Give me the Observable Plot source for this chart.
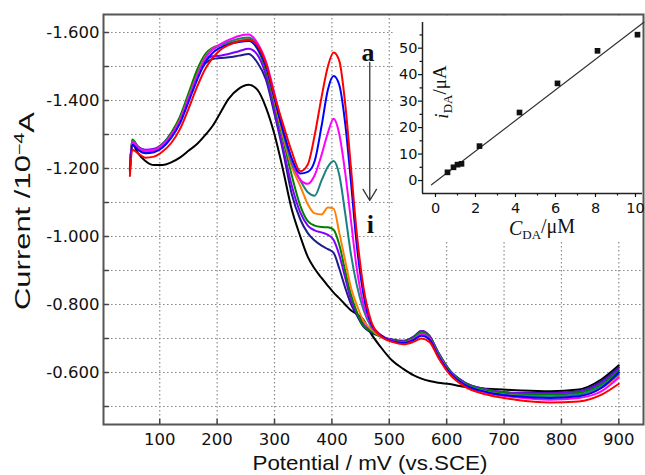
<!DOCTYPE html>
<html><head><meta charset="utf-8">
<script src="https://cdn.jsdelivr.net/npm/d3@7"></script>
<script src="https://cdn.jsdelivr.net/npm/@observablehq/plot@0.6"></script>
<style>
body{margin:0;background:#fff}
#wrap{position:relative;width:645px;height:475px;overflow:hidden}
#inset{position:absolute;left:393px;top:16px}
</style>
</head><body><div id="wrap"></div>
<script>
// ---- main chart data (potential in mV, current in 10^-4 A) ----
const potential = [48, 52, 62, 75, 90, 105, 120, 135, 150, 165, 180, 192, 205, 220, 238, 255, 270, 285, 300, 315, 330, 345, 358, 370, 382, 393, 403, 413, 423, 433, 443, 455, 468, 485, 505, 525, 542, 556, 570, 585, 605, 630, 670, 720, 780, 830, 870, 900];
const curveA = [-1.178, -1.255, -1.245, -1.232, -1.235, -1.25, -1.275, -1.315, -1.375, -1.44, -1.495, -1.525, -1.548, -1.563, -1.574, -1.579, -1.562, -1.51, -1.415, -1.33, -1.25, -1.192, -1.212, -1.298, -1.41, -1.50, -1.541, -1.516, -1.393, -1.207, -1.016, -0.851, -0.753, -0.707, -0.69, -0.683, -0.69, -0.70, -0.69, -0.645, -0.595, -0.56, -0.535, -0.52, -0.512, -0.515, -0.535, -0.567];
const curveB = [-1.19, -1.27, -1.255, -1.245, -1.248, -1.262, -1.29, -1.332, -1.395, -1.46, -1.515, -1.54, -1.555, -1.565, -1.572, -1.575, -1.555, -1.5, -1.405, -1.31, -1.23, -1.185, -1.19, -1.222, -1.325, -1.432, -1.472, -1.445, -1.335, -1.165, -0.98, -0.83, -0.745, -0.71, -0.692, -0.687, -0.695, -0.708, -0.697, -0.65, -0.6, -0.565, -0.542, -0.53, -0.525, -0.53, -0.555, -0.6];
const curveC = [-1.195, -1.278, -1.262, -1.252, -1.255, -1.27, -1.298, -1.34, -1.405, -1.47, -1.525, -1.55, -1.565, -1.578, -1.59, -1.594, -1.57, -1.515, -1.42, -1.315, -1.225, -1.167, -1.155, -1.18, -1.24, -1.305, -1.346, -1.30, -1.19, -1.05, -0.91, -0.80, -0.74, -0.71, -0.693, -0.688, -0.697, -0.712, -0.70, -0.652, -0.60, -0.565, -0.54, -0.527, -0.52, -0.525, -0.545, -0.585];
const curveD = [-1.195, -1.28, -1.26, -1.248, -1.25, -1.266, -1.295, -1.34, -1.405, -1.472, -1.528, -1.55, -1.562, -1.572, -1.582, -1.585, -1.562, -1.505, -1.41, -1.305, -1.215, -1.165, -1.13, -1.12, -1.165, -1.205, -1.222, -1.18, -1.07, -0.95, -0.86, -0.785, -0.735, -0.708, -0.693, -0.688, -0.698, -0.714, -0.70, -0.655, -0.602, -0.567, -0.543, -0.532, -0.53, -0.535, -0.56, -0.595];
const curveE = [-1.195, -1.28, -1.26, -1.25, -1.252, -1.268, -1.297, -1.342, -1.408, -1.475, -1.53, -1.552, -1.563, -1.572, -1.58, -1.583, -1.56, -1.5, -1.40, -1.295, -1.205, -1.148, -1.095, -1.068, -1.065, -1.085, -1.082, -1.01, -0.93, -0.851, -0.80, -0.752, -0.728, -0.706, -0.692, -0.687, -0.697, -0.713, -0.699, -0.653, -0.60, -0.566, -0.543, -0.532, -0.528, -0.532, -0.555, -0.59];
const curveF = [-1.198, -1.285, -1.265, -1.253, -1.255, -1.272, -1.305, -1.352, -1.42, -1.49, -1.538, -1.555, -1.563, -1.57, -1.577, -1.578, -1.552, -1.49, -1.39, -1.285, -1.18, -1.09, -1.045, -1.032, -1.028, -1.027, -1.02, -0.975, -0.90, -0.83, -0.78, -0.738, -0.722, -0.705, -0.694, -0.69, -0.702, -0.72, -0.705, -0.658, -0.605, -0.57, -0.548, -0.537, -0.535, -0.54, -0.565, -0.605];
const curveG = [-1.2, -1.283, -1.265, -1.255, -1.258, -1.273, -1.302, -1.348, -1.413, -1.48, -1.518, -1.53, -1.532, -1.537, -1.545, -1.552, -1.535, -1.475, -1.37, -1.26, -1.15, -1.07, -1.032, -1.018, -1.012, -1.005, -0.99, -0.945, -0.88, -0.815, -0.775, -0.745, -0.725, -0.708, -0.695, -0.692, -0.704, -0.722, -0.707, -0.66, -0.607, -0.572, -0.55, -0.54, -0.538, -0.543, -0.57, -0.61];
const curveH = [-1.198, -1.28, -1.262, -1.25, -1.252, -1.268, -1.298, -1.343, -1.408, -1.47, -1.51, -1.522, -1.525, -1.527, -1.532, -1.537, -1.512, -1.462, -1.36, -1.25, -1.125, -1.05, -1.01, -0.988, -0.973, -0.963, -0.952, -0.905, -0.85, -0.802, -0.77, -0.735, -0.718, -0.706, -0.697, -0.693, -0.705, -0.722, -0.708, -0.66, -0.607, -0.572, -0.55, -0.54, -0.54, -0.545, -0.575, -0.615];
const curveI = [-1.204, -1.272, -1.245, -1.222, -1.21, -1.21, -1.218, -1.232, -1.252, -1.272, -1.30, -1.325, -1.362, -1.405, -1.435, -1.446, -1.432, -1.38, -1.30, -1.195, -1.08, -1.0, -0.94, -0.905, -0.878, -0.855, -0.835, -0.818, -0.80, -0.783, -0.772, -0.755, -0.715, -0.675, -0.635, -0.61, -0.592, -0.582, -0.575, -0.57, -0.566, -0.558, -0.552, -0.548, -0.545, -0.55, -0.58, -0.621];
const curveIds = ["a", "b", "c", "d", "e", "f", "g", "h", "i"];
const curveColors = ["#ff0000", "#0000ff", "#ff00ff", "#1a8080", "#ff8000", "#008000", "#8000ff", "#1c1c8a", "#000000"];

const xTickLabels = [100, 200, 300, 400, 500, 600, 700, 800, 900];
const yTickLabels = [-1.6, -1.4, -1.2, -1.0, -0.8, -0.6];
const yGridValues = [-1.6, -1.5, -1.4, -1.3, -1.2, -1.1, -1.0, -0.9, -0.8, -0.7, -0.6, -0.5];
const xDomain = [2, 943];
const yDomain = [-0.447, -1.653];

// annotation "a" -> "i" arrow (data coordinates)
const annotLabels = [{t: "a", x: 463, y: -1.542}, {t: "i", x: 467, y: -1.035}];
const annotArrow = [{x1: 466, y1: -1.512, x2: 466, y2: -1.106}];

// ---- inset data ----
const cDA = [0.5, 0.8, 1.0, 1.2, 2.1, 4.1, 6.0, 8.0, 10.0];
const iDA = [3.1, 5.0, 6.0, 6.3, 13.0, 25.7, 36.7, 49.0, 55.1];
const fitX = [-0.3, 10.32];
const fitY = [-1.6, 59.8];
const insetXTicks = [0, 2, 4, 6, 8, 10];
const insetXMinor = [1, 3, 5, 7, 9];
const insetYTicks = [0, 10, 20, 30, 40, 50];
const insetYMinor = [5, 15, 25, 35, 45, 55];
const insetXDomain = [-0.75, 10.25];
const insetYDomain = [-4.9, 59.7];

// ---- build tables ----
const curveValues = [curveA, curveB, curveC, curveD, curveE, curveF, curveG, curveH, curveI];
const drawOrder = [8, 7, 6, 5, 4, 3, 2, 1, 0];
const lineData = drawOrder.flatMap(k => potential.map((x, j) => ({x, y: curveValues[k][j], id: curveIds[k]})));
const points = cDA.map((c, j) => ({c, v: iDA[j]}));
const fit = fitX.map((c, j) => ({c, v: fitY[j]}));

const tickShape = {draw(ctx, l) { ctx.moveTo(0, 0); ctx.lineTo(0, -l); }};
const gridStyle = {stroke: "#8c8c8c", strokeOpacity: 1, strokeDasharray: "1.6,2.4", strokeWidth: 1.2};

const main = Plot.plot({
  width: 645, height: 475,
  marginLeft: 103, marginRight: 2, marginTop: 14, marginBottom: 51,
  x: {domain: xDomain},
  y: {domain: yDomain},
  color: {domain: curveIds, range: curveColors},
  style: {fontFamily: "DejaVu Sans", fontSize: "16.5px", color: "#111", background: "white", overflow: "visible"},
  marks: [
    Plot.gridX(xTickLabels, gridStyle),
    Plot.gridY(yGridValues, gridStyle),
    Plot.line(lineData, {x: "x", y: "y", z: "id", stroke: "id", strokeWidth: 2, curve: "monotone-x"}),
    Plot.arrow(annotArrow, {x1: "x1", y1: "y1", x2: "x2", y2: "y2", stroke: "#333", strokeWidth: 1.3, headLength: 15, headAngle: 62}),
    Plot.text(annotLabels, {x: "x", y: "y", text: "t", fontFamily: "Liberation Serif", fontWeight: "bold", fontSize: 26, fill: "#111"}),
    Plot.vector(xTickLabels, {x: d => d, frameAnchor: "bottom", length: 5, anchor: "start", shape: tickShape, stroke: "#444", strokeWidth: 1.5}),
    Plot.vector(yGridValues, {y: d => d, frameAnchor: "left", length: 5, rotate: 90, anchor: "start", shape: tickShape, stroke: "#444", strokeWidth: 1.5}),
    Plot.axisX(xTickLabels, {tickSize: 0, tickPadding: 9, label: null}),
    Plot.axisY(yTickLabels, {tickSize: 0, tickPadding: 4, tickFormat: d => d.toFixed(3), label: null}),
    Plot.frame({stroke: "#555", strokeWidth: 2})
  ]
});

const msvg = d3.select(main);
const yTitle = msvg.append("text")
  .attr("transform", "translate(30,211) rotate(-90)")
  .attr("text-anchor", "middle")
  .attr("font-family", "Liberation Sans, Arial, sans-serif")
  .attr("font-size", 22).attr("fill", "#111")
  .attr("textLength", 198).attr("lengthAdjust", "spacingAndGlyphs");
yTitle.append("tspan").text("Current /10");
yTitle.append("tspan").attr("dy", "-0.45em").attr("font-size", 14).text("\u22124");
yTitle.append("tspan").attr("dy", "0.45em").text("A");
msvg.append("text")
  .attr("x", 370).attr("y", 470)
  .attr("text-anchor", "middle")
  .attr("font-family", "Liberation Sans, Arial, sans-serif")
  .attr("font-size", 21).attr("fill", "#111")
  .attr("textLength", 235).attr("lengthAdjust", "spacingAndGlyphs")
  .text("Potential / mV (vs.SCE)");

const inset = Plot.plot({
  width: 249, height: 224,
  marginLeft: 29, marginRight: 0, marginTop: 6, marginBottom: 47,
  x: {domain: insetXDomain},
  y: {domain: insetYDomain},
  style: {fontFamily: "DejaVu Sans", fontSize: "14.5px", color: "#111", background: "white", overflow: "visible"},
  marks: [
    Plot.ruleX([insetXDomain[0]], {stroke: "#222", strokeWidth: 1.5}),
    Plot.ruleY([insetYDomain[0]], {stroke: "#222", strokeWidth: 1.5}),
    Plot.axisY(insetYTicks, {tickSize: 4, tickPadding: 1, label: null, strokeWidth: 1.2}),
    Plot.axisY(insetYMinor, {tickSize: 2.5, tickFormat: () => "", label: null, strokeWidth: 1.2}),
    Plot.axisX(insetXTicks, {tickSize: 4, tickPadding: 5, label: null, strokeWidth: 1.2, textAnchor: "middle", dx: -2}),
    Plot.axisX(insetXMinor, {tickSize: 2.5, tickFormat: () => "", label: null, strokeWidth: 1.2}),
    Plot.line(fit, {x: "c", y: "v", stroke: "#333", strokeWidth: 1.2}),
    Plot.dot(points, {x: "c", y: "v", symbol: "square", r: 3.2, fill: "#111", stroke: "none"})
  ]
});
inset.id = "inset";
const isvg = d3.select(inset);
const iy = isvg.append("text")
  .attr("transform", "translate(55,76) rotate(-90)")
  .attr("text-anchor", "middle")
  .attr("font-family", "Liberation Serif, serif")
  .attr("font-size", 19).attr("fill", "#111");
iy.append("tspan").attr("font-style", "italic").text("i");
iy.append("tspan").attr("dy", "0.3em").attr("font-size", 13).text("DA");
iy.append("tspan").attr("dy", "-0.3em").text("/\u03bcA");
const ix = isvg.append("text")
  .attr("x", 149).attr("y", 219)
  .attr("text-anchor", "middle")
  .attr("font-family", "Liberation Serif, serif")
  .attr("font-size", 20).attr("fill", "#111");
ix.append("tspan").attr("font-style", "italic").text("C");
ix.append("tspan").attr("dy", "0.3em").attr("font-size", 13).text("DA");
ix.append("tspan").attr("dy", "-0.3em").text("/\u03bcM");

const wrap = document.getElementById("wrap");
wrap.appendChild(main);
wrap.appendChild(inset);
</script>
</body></html>
